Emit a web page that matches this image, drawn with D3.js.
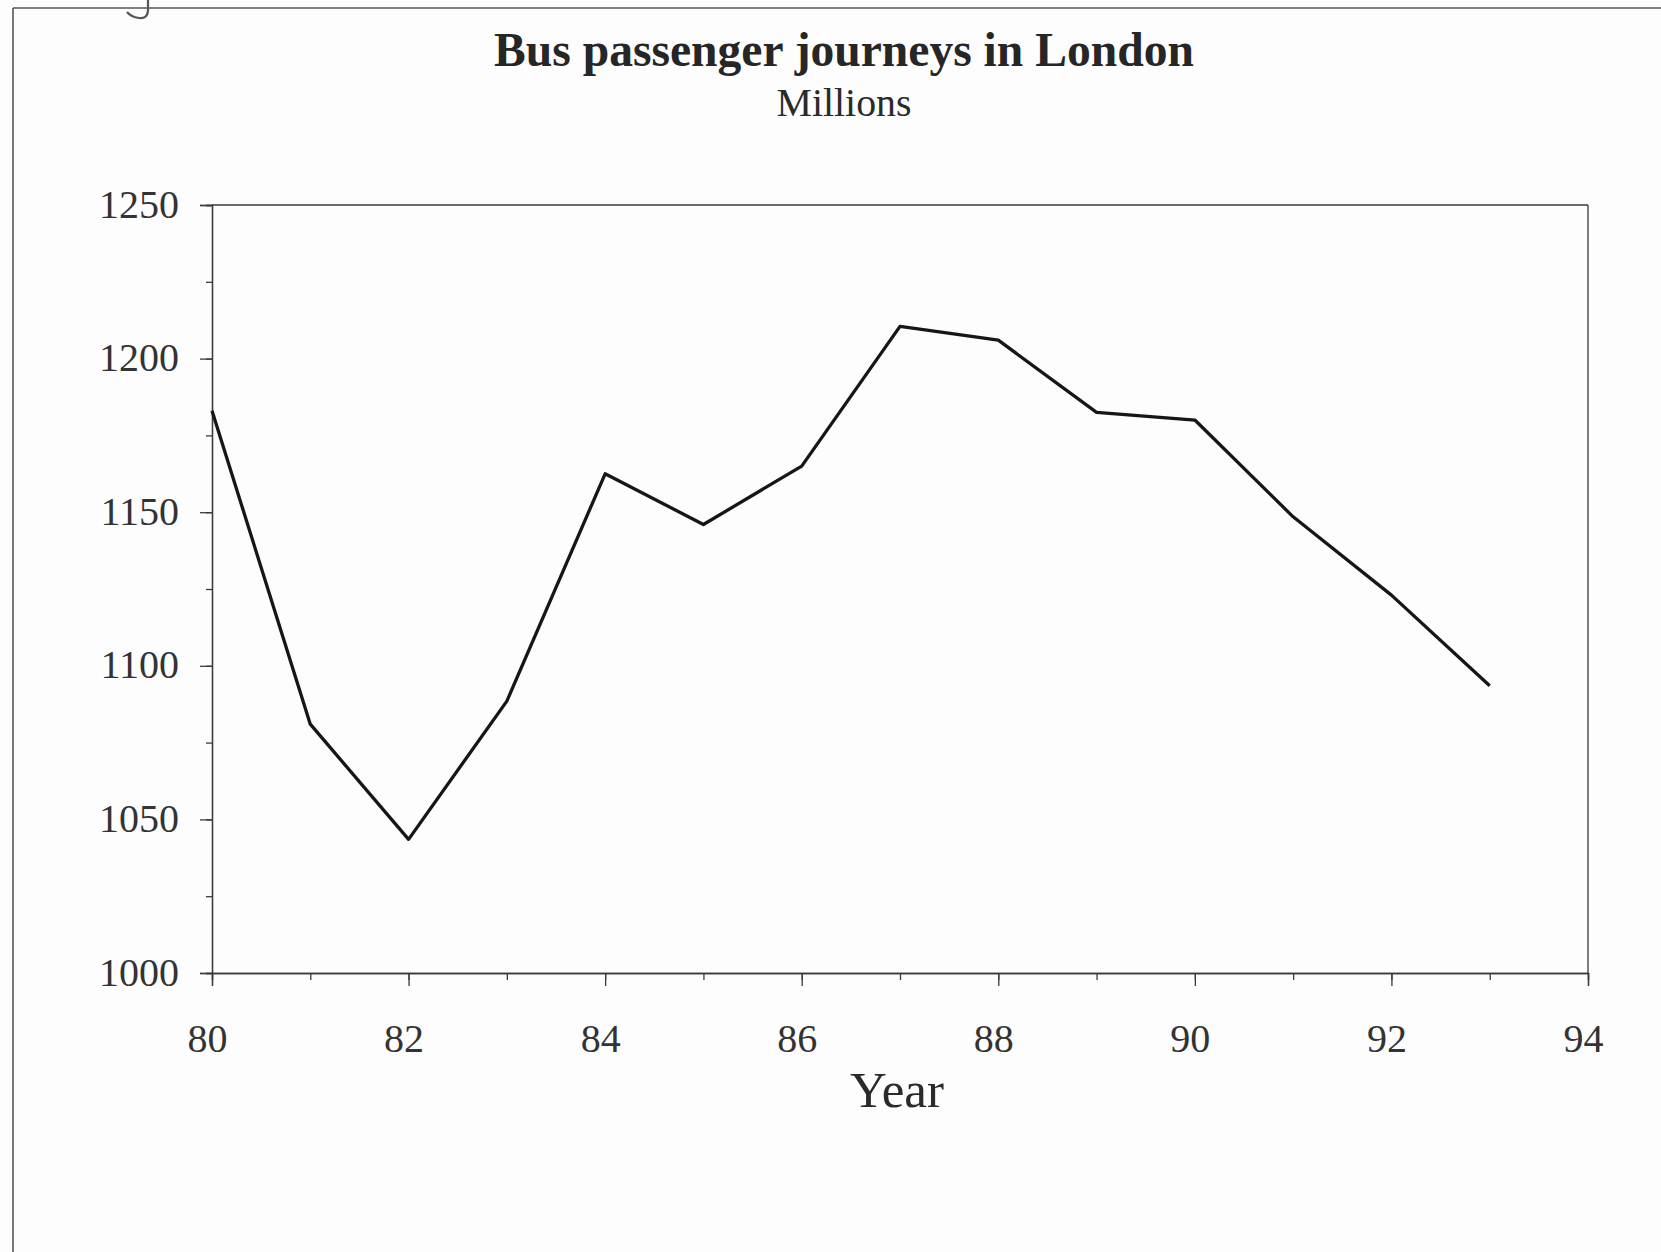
<!DOCTYPE html>
<html>
<head>
<meta charset="utf-8">
<script src="https://cdn.jsdelivr.net/npm/d3@7"></script>
<style>
  html, body { margin: 0; padding: 0; background: #fdfdfd; }
  svg { display: block; }
  text { font-family: "Liberation Serif", "Times New Roman", serif; }
</style>
</head>
<body>
<svg id="chart" width="1661" height="1252"></svg>
<script>
// ---- data ----
const years = [80, 81, 82, 83, 84, 85, 86, 87, 88, 89, 90, 91, 92, 93];
const journeys = [1183, 1081, 1043.5, 1088.5, 1162.5, 1146, 1165, 1210.5, 1206, 1182.5, 1180, 1148.5, 1123, 1093.5];
const xTickLabels = [80, 82, 84, 86, 88, 90, 92, 94];
const yTickLabels = [1000, 1050, 1100, 1150, 1200, 1250];
const titleText = "Bus passenger journeys in London";
const subtitleText = "Millions";
const xAxisTitle = "Year";

const svg = d3.select("#chart");
const W = 1661, H = 1252;
const plot = { left: 212, right: 1588, top: 205, bottom: 973 };

svg.append("rect").attr("width", W).attr("height", H).attr("fill", "#fdfdfd");

// page frame (scanned page border)
svg.append("line").attr("x1", 13).attr("x2", W).attr("y1", 8).attr("y2", 8)
  .attr("stroke", "#555").attr("stroke-width", 1.6);
svg.append("line").attr("x1", 13).attr("x2", 13).attr("y1", 8).attr("y2", H)
  .attr("stroke", "#555").attr("stroke-width", 1.6);
// handwritten mark at the top
svg.append("path").attr("d", "M148,0 L148,11 Q147,19 139,18 Q131,17 127,12")
  .attr("fill", "none").attr("stroke", "#555").attr("stroke-width", 2.2);

const x = d3.scaleLinear().domain([80, 94]).range([plot.left, plot.right]);
const y = d3.scaleLinear().domain([1000, 1250]).range([plot.bottom, plot.top]);

const axisColor = "#3a3a3a";

// plot box top & right
svg.append("line").attr("x1", plot.left).attr("x2", plot.right).attr("y1", plot.top).attr("y2", plot.top)
  .attr("stroke", axisColor).attr("stroke-width", 1.3);
svg.append("line").attr("x1", plot.right).attr("x2", plot.right).attr("y1", plot.top).attr("y2", plot.bottom)
  .attr("stroke", axisColor).attr("stroke-width", 1.3);

// x axis: minor ticks every year, major every 2
const xMinor = d3.axisBottom(x).tickValues(d3.range(80, 95, 1)).tickSize(7).tickFormat("");
const gxm = svg.append("g").attr("transform", `translate(0,${plot.bottom})`).call(xMinor);
const xMajor = d3.axisBottom(x).tickValues(xTickLabels).tickSize(13).tickFormat(d3.format("d")).tickPadding(40);
const gx = svg.append("g").attr("transform", `translate(0,${plot.bottom})`).call(xMajor);

// y axis: minor every 25, major every 50
const yMinor = d3.axisLeft(y).tickValues(d3.range(1000, 1251, 25)).tickSize(6).tickFormat("");
const gym = svg.append("g").attr("transform", `translate(${plot.left},0)`).call(yMinor);
const yMajor = d3.axisLeft(y).tickValues(yTickLabels).tickSize(12).tickFormat(d3.format("d")).tickPadding(21);
const gy = svg.append("g").attr("transform", `translate(${plot.left},0)`).call(yMajor);

[gxm, gx, gym, gy].forEach(g => {
  g.selectAll(".domain").attr("stroke", axisColor).attr("stroke-width", 1.3);
  g.selectAll(".tick line").attr("stroke", axisColor).attr("stroke-width", 1.3);
});
gx.selectAll(".tick text")
  .attr("font-size", 40).attr("fill", "#333")
  .attr("font-family", "Liberation Serif, serif")
  .attr("dx", -5).attr("dy", 0).attr("y", 79);
gy.selectAll(".tick text")
  .attr("font-size", 40).attr("fill", "#333")
  .attr("font-family", "Liberation Serif, serif")
  .attr("dy", "0.30em");

// data line
const line = d3.line().x((d, i) => x(years[i])).y(d => y(d));
svg.append("path").datum(journeys)
  .attr("d", line)
  .attr("fill", "none").attr("stroke", "#161616").attr("stroke-width", 3.3)
  .attr("stroke-linejoin", "round");

// helper: fit text to width
function fit(t, width) {
  const w = t.node().getComputedTextLength();
  const fs = parseFloat(t.attr("font-size"));
  t.attr("font-size", fs * width / w);
}

const title = svg.append("text").attr("x", 844).attr("y", 66)
  .attr("text-anchor", "middle").attr("font-weight", "bold")
  .attr("font-size", 44).attr("fill", "#262626").text(titleText);
fit(title, 700);

const sub = svg.append("text").attr("x", 844).attr("y", 116)
  .attr("text-anchor", "middle")
  .attr("font-size", 38).attr("fill", "#2a2a2a").text(subtitleText);
fit(sub, 135);

const xt = svg.append("text").attr("x", 897).attr("y", 1107)
  .attr("text-anchor", "middle")
  .attr("font-size", 46).attr("fill", "#2a2a2a").text(xAxisTitle);
fit(xt, 94);
</script>
</body>
</html>
